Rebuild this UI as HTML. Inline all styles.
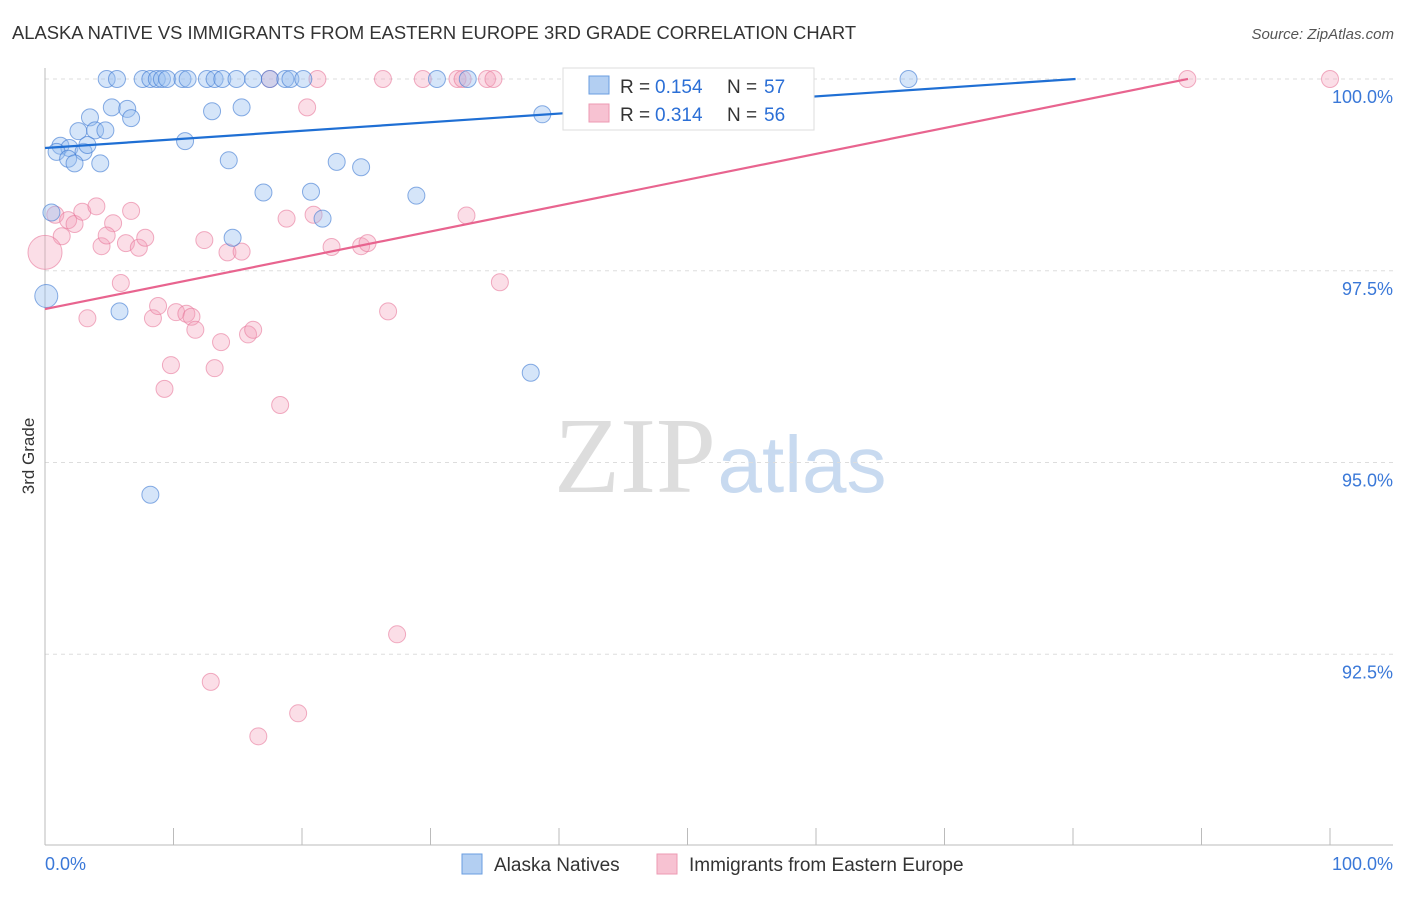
<!DOCTYPE html>
<html><head><meta charset="utf-8"><style>
body{margin:0;background:#fff;font-family:"Liberation Sans",sans-serif}
</style></head><body>
<svg id="c" width="1406" height="892" xmlns="http://www.w3.org/2000/svg" style="font-family:'Liberation Sans',sans-serif">
<text x="12" y="39" font-size="18.4" fill="#333">ALASKA NATIVE VS IMMIGRANTS FROM EASTERN EUROPE 3RD GRADE CORRELATION CHART</text>
<text x="1394" y="39" font-size="15" fill="#555" text-anchor="end" font-style="italic">Source: ZipAtlas.com</text>
<text x="34" y="456" font-size="17" fill="#333" transform="rotate(-90 34 456)" text-anchor="middle">3rd Grade</text>
<g><text x="635" y="492" font-size="108" fill="#ddd" text-anchor="middle" font-family="Liberation Serif">ZIP</text><text x="802" y="492" font-size="80" fill="#c8daf0" text-anchor="middle">atlas</text></g>
<g id="grid"></g><g id="pts"></g><g id="lines"></g>
<g>
<rect x="563" y="68" width="251" height="62" fill="#fff" stroke="#ddd"/>
<rect x="589" y="76" width="20" height="18" fill="#b3cff2" stroke="#6a9ee0"/>
<rect x="589" y="104" width="20" height="18" fill="#f7c2d2" stroke="#ec9ab3"/>
<text x="620" y="93" font-size="19" fill="#333">R = </text><text x="655" y="93" font-size="19" fill="#2b6fd6">0.154</text>
<text x="727" y="93" font-size="19" fill="#333">N = </text><text x="764" y="93" font-size="19" fill="#2b6fd6">57</text>
<text x="620" y="121" font-size="19" fill="#333">R = </text><text x="655" y="121" font-size="19" fill="#2b6fd6">0.314</text>
<text x="727" y="121" font-size="19" fill="#333">N = </text><text x="764" y="121" font-size="19" fill="#2b6fd6">56</text>
</g>
<g>
<rect x="462" y="854" width="20" height="20" fill="#b3cff2" stroke="#6a9ee0"/>
<text x="494" y="871" font-size="19" fill="#333">Alaska Natives</text>
<rect x="657" y="854" width="20" height="20" fill="#f7c2d2" stroke="#ec9ab3"/>
<text x="689" y="871" font-size="19" fill="#333">Immigrants from Eastern Europe</text>
</g>
<text x="45" y="870" font-size="18" fill="#3a78d8">0.0%</text>
<text x="1393" y="870" font-size="18" fill="#3a78d8" text-anchor="end">100.0%</text>
</svg>
<script>
const yTicks=[100,97.5,95,92.5];
const yTickLabels=["100.0%","97.5%","95.0%","92.5%"];
const xTicks=[0,10,20,30,40,50,60,70,80,90,100];
const blueX=[4.8,5.6,7.6,8.2,8.7,9.1,9.5,10.7,11.1,12.6,13.2,13.8,14.9,16.2,17.5,18.7,19.1,20.1,30.5,32.9,41.5,44.0,46.1,67.2,
5.2,6.4,6.7,3.5,2.6,3.9,4.7,1.2,1.9,0.9,3.0,3.3,1.8,2.3,4.3,10.9,13.0,15.3,38.7,14.3,22.7,24.6,17.0,20.7,28.9,0.5,21.6,14.6,0.1,5.8,37.8,8.2];
const blueY=[100,100,100,100,100,100,100,100,100,100,100,100,100,100,100,100,100,100,100,100,100,100,100,100,
99.63,99.61,99.49,99.50,99.32,99.33,99.33,99.13,99.10,99.05,99.05,99.14,98.96,98.90,98.90,99.19,99.58,99.63,99.54,98.94,98.92,98.85,98.52,98.53,98.48,98.26,98.18,97.93,97.17,96.97,96.17,94.58];
const pinkX=[17.5,21.2,26.3,29.4,32.1,32.5,34.4,34.9,88.9,100,
20.4,0.8,1.8,2.3,2.9,4.0,6.7,5.3,1.3,0.0,4.4,4.8,6.3,7.3,7.8,12.4,14.2,15.3,18.8,20.9,22.3,24.6,25.1,32.8,35.4,5.9,3.3,8.4,8.8,10.2,11.0,11.4,11.7,13.7,15.8,16.2,26.7,9.8,13.2,9.3,18.3,27.4,12.9,19.7,16.6];
const pinkY=[100,100,100,100,100,100,100,100,100,100,
99.63,98.23,98.16,98.11,98.27,98.34,98.28,98.12,97.95,97.74,97.82,97.96,97.86,97.80,97.93,97.90,97.74,97.75,98.18,98.23,97.81,97.82,97.86,98.22,97.35,97.34,96.88,96.88,97.04,96.96,96.94,96.90,96.73,96.57,96.67,96.73,96.97,96.27,96.23,95.96,95.75,92.76,92.14,91.73,91.43];
const pinkR=Array(56).fill(8.5);pinkR[19]=17;
const blueR=Array(56).fill(8.5);blueR[52]=11.5;
const trends={blue:[99.10,0.01122,80.2],pink:[97.0,0.03373,88.95]};
const X0=45,X1=1330,Y100=79,PPU=76.7;
const sx=v=>X0+(X1-X0)*v/100, sy=v=>Y100+(100-v)*PPU;
const NS="http://www.w3.org/2000/svg";
function mk(t,a,p){const e=document.createElementNS(NS,t);for(const k in a)e.setAttribute(k,a[k]);p.appendChild(e);return e;}
const g=document.getElementById('grid');
yTicks.forEach((t,i)=>{
 const l=mk('line',{x1:45,x2:1393,y1:sy(t),y2:sy(t),stroke:'#ddd','stroke-dasharray':'4,4'},g);
 
 
 const tx=mk('text',{x:1393,y:sy(t)+24,'font-size':18,fill:'#3a78d8','text-anchor':'end'},g);tx.textContent=yTickLabels[i];
 
 
});
const ax=mk('line',{x1:45,x2:45,y1:68,y2:845,stroke:'#bbb'},g);


const bx=mk('line',{x1:45,x2:1393,y1:845,y2:845,stroke:'#bbb'},g);


xTicks.forEach(t=>{const l=mk('line',{x1:sx(t),x2:sx(t),y1:828,y2:845,stroke:'#bbb'},g);
 
 });
const p=document.getElementById('pts');
pinkX.forEach((x,i)=>{const c=mk('circle',{cx:sx(x),cy:sy(pinkY[i]),r:pinkR[i],fill:'rgba(244,160,185,0.35)',stroke:'rgba(232,120,155,0.6)','stroke-width':1},p);
 
 });
blueX.forEach((x,i)=>{const c=mk('circle',{cx:sx(x),cy:sy(blueY[i]),r:blueR[i],fill:'rgba(150,190,240,0.4)',stroke:'rgba(60,120,210,0.6)','stroke-width':1},p);
 
 });
const L=document.getElementById('lines');
[['blue','#1f6fd4'],['pink','#e8648f']].forEach(([k,col])=>{const [b,m,xe]=trends[k];
 const l=mk('line',{x1:sx(0),y1:sy(b),x2:sx(xe),y2:sy(b+m*xe),stroke:col,'stroke-width':2.2},L);
 
 });
</script>
</body></html>
